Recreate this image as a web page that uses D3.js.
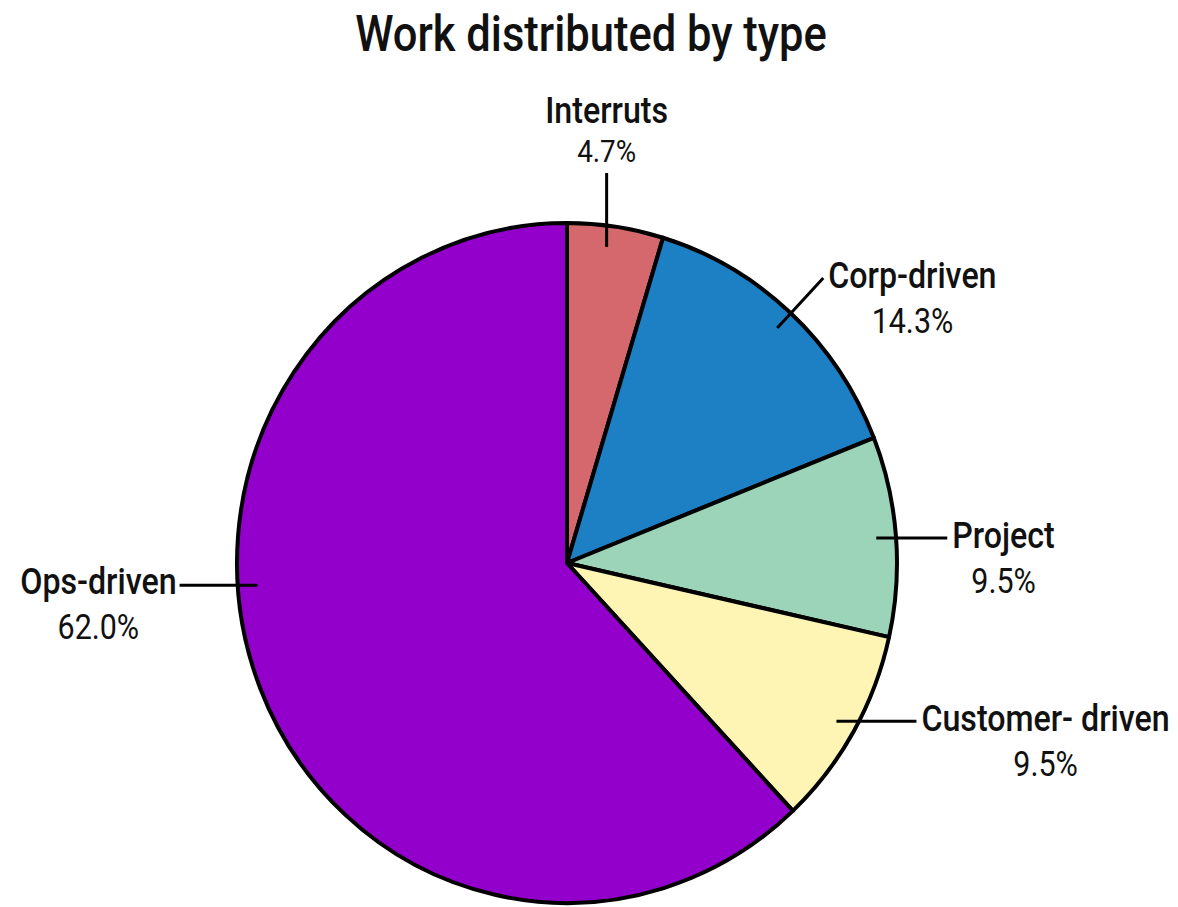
<!DOCTYPE html>
<html>
<head>
<meta charset="utf-8">
<script src="https://cdn.jsdelivr.net/npm/d3@7"></script>
<style>
  body { margin: 0; background: #fff; }
  text { font-family: Roboto, "Liberation Sans", sans-serif; fill: #111; }
</style>
</head>
<body>
<div id="chart"></div>
<script>
// data (clockwise from 12 o'clock)
var categories = ["Interruts", "Corp-driven", "Project", "Customer- driven", "Ops-driven"];
var shares = [4.7, 14.3, 9.5, 9.5, 62.0];
var colors = ["#d5686c", "#1d7fc4", "#9bd4b8", "#fef5b5", "#9300cc"];

var width = 1178, height = 907;
var cx = 567, cy = 563, rx = 330, ry = 340;
var sx = 0.87; // squeeze text horizontally, the original uses a condensed face

var svg = d3.select("#chart").append("svg")
  .attr("width", width)
  .attr("height", height);

function putText(sel, x, y) {
  return sel.attr("transform", "translate(" + x + "," + y + ") scale(" + sx + ",1)");
}

putText(svg.append("text"), 591, 51)
  .attr("text-anchor", "middle")
  .attr("font-size", "50px")
  .attr("font-weight", 500)
  .text("Work distributed by type");

var rows = categories.map(function(c, i) { return {name: c, value: shares[i], color: colors[i]}; });

var pie = d3.pie().sort(null).value(function(d) { return d.value; });
var arcs = pie(rows);

var arc = d3.arc().innerRadius(0).outerRadius(rx);

// the pie in the picture is a touch taller than wide
var g = svg.append("g")
  .attr("transform", "translate(" + cx + "," + cy + ") scale(1," + (ry / rx) + ")");

g.selectAll("path")
  .data(arcs)
  .enter().append("path")
  .attr("d", arc)
  .attr("fill", function(d) { return d.data.color; })
  .attr("stroke", "#000")
  .attr("stroke-width", 4)
  .attr("stroke-linejoin", "round")
  .attr("vector-effect", "non-scaling-stroke");

// how each label leaves the pie
var layout = {
  "Interruts":        {kind: "up", to: 173},
  "Corp-driven":      {kind: "radial", len: 68},
  "Project":          {kind: "side", len: 71},
  "Customer- driven": {kind: "side", len: 80},
  "Ops-driven":       {kind: "side", len: -78, angle: 266}
};

var fmt = d3.format(".1f");
var labels = svg.append("g");

arcs.forEach(function(d) {
  var L = layout[d.data.name];
  var a = L.angle != null ? L.angle * Math.PI / 180 : (d.startAngle + d.endAngle) / 2;
  var r0 = 0.94 * rx;
  var x0 = cx + r0 * Math.sin(a), y0 = cy - r0 * Math.cos(a) * ry / rx;
  var x1, y1;
  if (L.kind === "up") { x1 = x0 - 6; x0 = x1; y1 = L.to; }
  else if (L.kind === "radial") { x1 = x0 + L.len * Math.sin(a); y1 = y0 - L.len * Math.cos(a); }
  else { x1 = x0 + L.len; y1 = y0; }

  labels.append("line")
    .attr("x1", x0).attr("y1", y0).attr("x2", x1).attr("y2", y1)
    .attr("stroke", "#000").attr("stroke-width", 3);

  var name = labels.append("text")
    .attr("font-size", "37px").attr("font-weight", 500)
    .text(d.data.name);
  var pct = labels.append("text")
    .attr("font-size", "35px")
    .attr("text-anchor", "middle")
    .text(fmt(d.data.value) + "%");
  var w = name.node().getComputedTextLength() * sx;
  var mid;

  if (L.kind === "up") {
    name.attr("text-anchor", "middle");
    putText(name, x1, y1 - 50);
    putText(pct.attr("font-size", "32px"), x1, y1 - 11);
  } else if (L.len > 0 || L.kind === "radial") {
    putText(name, x1 + 5, y1 + 10);
    mid = x1 + 5 + w / 2;
    putText(pct, mid, y1 + 55);
  } else {
    name.attr("text-anchor", "end");
    putText(name, x1 - 3, y1 + 9);
    mid = x1 - 3 - w / 2;
    putText(pct, mid, y1 + 54);
  }
});
</script>
</body>
</html>
